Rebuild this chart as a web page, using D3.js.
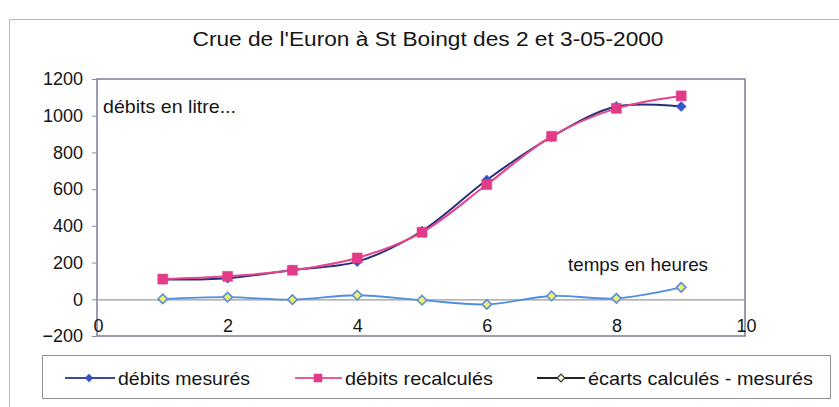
<!DOCTYPE html>
<html><head><meta charset="utf-8">
<script src="https://cdn.jsdelivr.net/npm/d3@7"></script>
<style>
body{margin:0;background:#fff}
svg{display:block;background:#fff}
text{font-family:"Liberation Sans",Arial,sans-serif;fill:#151515}
</style>
</head><body>
<svg id="chart" width="839" height="407"></svg>
<script>
// ---- data ----
const hours = [1, 2, 3, 4, 5, 6, 7, 8, 9];
const debitsMesures = [108, 115, 160, 205, 372, 650, 885, 1050, 1050];
const debitsRecalcules = [110, 125, 158, 225, 365, 625, 888, 1040, 1108];
const ecarts = [2, 12, -2, 22, -5, -28, 18, 5, 65];
const yTicks = [-200, 0, 200, 400, 600, 800, 1000, 1200];
const xTicks = [0, 2, 4, 6, 8, 10];
const seriesNames = ["débits mesurés", "débits recalculés", "écarts calculés - mesurés"];
const titleText = "Crue de l'Euron à St Boingt des 2 et 3-05-2000";
const yLabelText = "débits en litre...";
const xLabelText = "temps en heures";

// ---- layout ----
const svg = d3.select("#chart");
const W = 839, H = 407;
const plot = {left: 97, right: 745, top: 79, bottom: 336};
const x = d3.scaleLinear().domain([0, 10]).range([plot.left + 1, plot.right + 1]);
const y = d3.scaleLinear().domain([-200, 1200]).range([plot.bottom, plot.top]);

// outer chart border (partially visible)
svg.append("rect").attr("x", 9.5).attr("y", 19.5).attr("width", 900).attr("height", 500)
  .attr("fill", "none").attr("stroke", "#b8b8b8").attr("stroke-width", 1);

// title
svg.append("text").attr("x", 428).attr("y", 46).attr("text-anchor", "middle")
  .attr("font-size", 20).attr("textLength", 471).attr("lengthAdjust", "spacingAndGlyphs")
  .text(titleText);

// plot frame
svg.append("rect").attr("x", plot.left).attr("y", plot.top)
  .attr("width", plot.right - plot.left).attr("height", plot.bottom - plot.top)
  .attr("fill", "none").attr("stroke", "#7c7c98").attr("stroke-width", 1.5);

// y axis
const yAxis = svg.append("g").attr("transform", `translate(${plot.left},0)`)
  .call(d3.axisLeft(y).tickValues(yTicks).tickSize(5).tickPadding(9).tickFormat(d3.format("d")));
yAxis.select(".domain").remove();
yAxis.selectAll(".tick line").attr("stroke", "#8a8aa0");
yAxis.selectAll("text").attr("font-size", 18).attr("font-family", "Liberation Sans, Arial, sans-serif").attr("fill", "#151515");

// x axis along zero line
const xAxis = svg.append("g").attr("transform", `translate(0,${y(0)})`)
  .call(d3.axisBottom(x).tickValues(xTicks).tickSizeInner(0).tickSizeOuter(0).tickPadding(20));
xAxis.select(".domain").attr("stroke", "#9a9a9a").attr("stroke-width", 1.2)
  .attr("d", `M${plot.left},0.5H${plot.right}`);
xAxis.selectAll("text").attr("font-size", 18).attr("font-family", "Liberation Sans, Arial, sans-serif").attr("fill", "#151515");

// axis titles
svg.append("text").attr("x", 103).attr("y", 113).attr("font-size", 19)
  .attr("textLength", 133).attr("lengthAdjust", "spacingAndGlyphs").text(yLabelText);
svg.append("text").attr("x", 568).attr("y", 271).attr("font-size", 19)
  .attr("textLength", 140).attr("lengthAdjust", "spacingAndGlyphs").text(xLabelText);

// marker shapes
const rhombus = {
  draw(ctx, size) {
    const r = Math.sqrt(size) / 2;
    ctx.moveTo(0, -r); ctx.lineTo(r, 0); ctx.lineTo(0, r); ctx.lineTo(-r, 0); ctx.closePath();
  }
};
const diamondPath = d3.symbol().type(rhombus).size(100)();
const squarePath = d3.symbol().type(d3.symbolSquare).size(100)();

const styles = [
  {values: debitsMesures, line: "#24307a", lw: 2, path: diamondPath, fill: "#3553c8", stroke: "#3553c8", sw: 0.5, curve: d3.curveCatmullRom},
  {values: debitsRecalcules, line: "#e8448e", lw: 2, path: squarePath, fill: "#e23b87", stroke: "#e23b87", sw: 0.5, curve: d3.curveCatmullRom},
  {values: ecarts, line: "#4f8fe0", lw: 1.8, path: d3.symbol().type(rhombus).size(90)(), fill: "#f1ef6e", stroke: "#5a8fd8", sw: 1.6, curve: d3.curveCatmullRom}
];

styles.forEach(s => {
  const pts = hours.map((h, i) => [h, s.values[i]]);
  svg.append("path").datum(pts)
    .attr("fill", "none").attr("stroke", s.line).attr("stroke-width", s.lw)
    .attr("d", d3.line().x(d => x(d[0])).y(d => y(d[1])).curve(s.curve));
});
styles.forEach(s => {
  const pts = hours.map((h, i) => [h, s.values[i]]);
  svg.append("g").selectAll("path").data(pts).join("path")
    .attr("transform", d => `translate(${x(d[0])},${y(d[1])})`)
    .attr("d", s.path).attr("fill", s.fill).attr("stroke", s.stroke).attr("stroke-width", s.sw);
});

// legend
const lg = svg.append("g");
lg.append("rect").attr("x", 42.5).attr("y", 355.5).attr("width", 788).attr("height", 43)
  .attr("fill", "#fff").attr("stroke", "#8f8f8f").attr("stroke-width", 1);
const legendItems = [
  {x1: 65, x2: 115, mx: 89, tx: 118, line: "#3a4a9e", path: d3.symbol().type(rhombus).size(64)(), fill: "#3553c8", stroke: "#3553c8", sw: 0.5, tw: 132},
  {x1: 295, x2: 342, mx: 318, tx: 345, line: "#ec5a9c", path: d3.symbol().type(d3.symbolSquare).size(64)(), fill: "#e23b87", stroke: "#e23b87", sw: 0.5, tw: 148},
  {x1: 537, x2: 585, mx: 561, tx: 588, line: "#222", path: d3.symbol().type(rhombus).size(60)(), fill: "#faf7d2", stroke: "#333", sw: 1.2, tw: 225}
];
legendItems.forEach((it, i) => {
  const cy = 378;
  lg.append("line").attr("x1", it.x1).attr("x2", it.x2).attr("y1", cy).attr("y2", cy)
    .attr("stroke", it.line).attr("stroke-width", 2);
  lg.append("path").attr("transform", `translate(${it.mx},${cy})`).attr("d", it.path)
    .attr("fill", it.fill).attr("stroke", it.stroke).attr("stroke-width", it.sw);
  lg.append("text").attr("x", it.tx).attr("y", cy + 7).attr("font-size", 19)
    .attr("textLength", it.tw).attr("lengthAdjust", "spacingAndGlyphs").text(seriesNames[i]);
});
</script>
</body></html>
